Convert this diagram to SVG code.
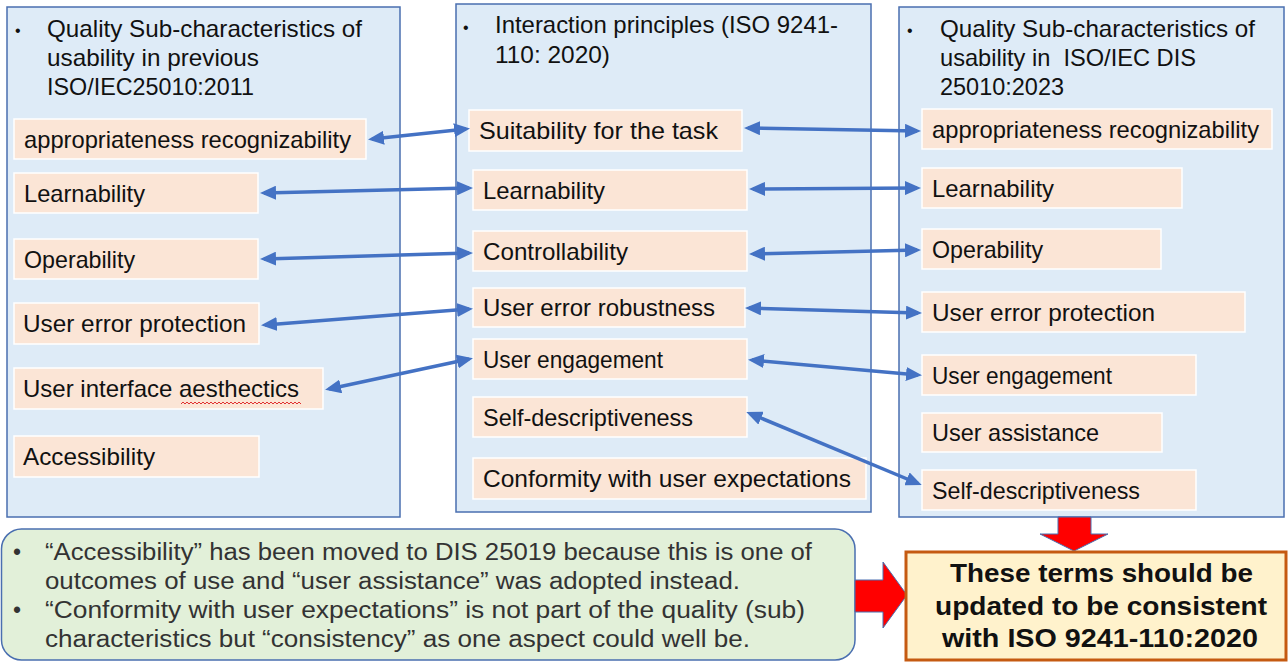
<svg xmlns="http://www.w3.org/2000/svg" width="1288" height="662" viewBox="0 0 1288 662">
<style>
.panel{fill:#DEEBF7;stroke:#4A6FB0;stroke-width:1.5}
.item{fill:#FBE5D6;stroke:#FFFFFF;stroke-width:1.5}
.t{font-family:"Liberation Sans",Arial,sans-serif;font-size:24px;fill:#111}
.h{font-family:"Liberation Sans",Arial,sans-serif;font-size:24px;fill:#111}
.b{font-family:"Liberation Sans",Arial,sans-serif;font-size:16px;fill:#111}
.n{font-family:"Liberation Sans",Arial,sans-serif;font-size:23px;fill:#333}
.y{font-family:"Liberation Sans",Arial,sans-serif;font-size:26px;font-weight:bold;fill:#111}
.c{fill:none;stroke:#4472C4;stroke-width:3.5;marker-start:url(#ah);marker-end:url(#ah)}
.red{fill:#FF0000;stroke:#4A6FB0;stroke-width:1}
</style>
<defs>
<marker id="ah" viewBox="0 0 16 14" refX="12" refY="7" markerWidth="16" markerHeight="14" markerUnits="userSpaceOnUse" orient="auto-start-reverse">
<path d="M0,0 L16,7 L0,14 z" fill="#4472C4"/>
</marker>
</defs>
<rect width="1288" height="662" fill="#FFFFFF"/>

<g id="panel-left">
<rect class="panel" x="7" y="7" width="393" height="510"/>
<text class="b" x="15" y="36">•</text>
<text class="h" x="47" y="37" textLength="315" lengthAdjust="spacingAndGlyphs">Quality Sub-characteristics of</text>
<text class="h" x="47" y="66" textLength="212" lengthAdjust="spacingAndGlyphs">usability in previous</text>
<text class="h" x="47" y="95" textLength="207" lengthAdjust="spacingAndGlyphs">ISO/IEC25010:2011</text>
</g>
<g id="panel-middle">
<rect class="panel" x="456" y="4" width="415" height="508"/>
<text class="b" x="463" y="33">•</text>
<text class="h" x="495" y="33" textLength="343" lengthAdjust="spacingAndGlyphs">Interaction principles (ISO 9241-</text>
<text class="h" x="495" y="63" textLength="115" lengthAdjust="spacingAndGlyphs">110: 2020)</text>
</g>
<g id="panel-right">
<rect class="panel" x="899" y="7" width="385" height="510"/>
<text class="b" x="907" y="36">•</text>
<text class="h" x="940" y="37" textLength="315" lengthAdjust="spacingAndGlyphs">Quality Sub-characteristics of</text>
<text class="h" x="940" y="66" textLength="256" lengthAdjust="spacingAndGlyphs" xml:space="preserve">usability in  ISO/IEC DIS</text>
<text class="h" x="940" y="95" textLength="124" lengthAdjust="spacingAndGlyphs">25010:2023</text>
</g>

<g id="left-appropriateness"><rect class="item" x="14" y="119" width="352" height="40"/><text class="t" x="24" y="148" textLength="327" lengthAdjust="spacingAndGlyphs">appropriateness recognizability</text></g>
<g id="left-learnability"><rect class="item" x="14" y="173" width="244" height="40"/><text class="t" x="24" y="202" textLength="121" lengthAdjust="spacingAndGlyphs">Learnability</text></g>
<g id="left-operability"><rect class="item" x="14" y="239" width="244" height="40"/><text class="t" x="24" y="268" textLength="111" lengthAdjust="spacingAndGlyphs">Operability</text></g>
<g id="left-user-error-protection"><rect class="item" x="14" y="303" width="245" height="41"/><text class="t" x="23" y="332" textLength="223" lengthAdjust="spacingAndGlyphs">User error protection</text></g>
<g id="left-ui-aesthetics"><rect class="item" x="14" y="368" width="309" height="41"/><text class="t" x="23" y="397" textLength="276" lengthAdjust="spacingAndGlyphs">User interface aesthectics</text><path d="M181,404 l2,-2 l2,2 l2,-2 l2,2 l2,-2 l2,2 l2,-2 l2,2 l2,-2 l2,2 l2,-2 l2,2 l2,-2 l2,2 l2,-2 l2,2 l2,-2 l2,2 l2,-2 l2,2 l2,-2 l2,2 l2,-2 l2,2 l2,-2 l2,2 l2,-2 l2,2 l2,-2 l2,2 l2,-2 l2,2 l2,-2 l2,2 l2,-2 l2,2 l2,-2 l2,2 l2,-2 l2,2 l2,-2 l2,2 l2,-2 l2,2 l2,-2 l2,2 l2,-2 l2,2 l2,-2 l2,2 l2,-2 l2,2 l2,-2 l2,2 l2,-2 l2,2 l2,-2 l2,2 l2,-2 l2,2" fill="none" stroke="#E03030" stroke-width="1"/></g>
<g id="left-accessibility"><rect class="item" x="14" y="436" width="245" height="41"/><text class="t" x="23" y="465" textLength="132" lengthAdjust="spacingAndGlyphs">Accessibility</text></g>

<g id="mid-suitability"><rect class="item" x="469" y="110" width="273" height="41"/><text class="t" x="479" y="139" textLength="239" lengthAdjust="spacingAndGlyphs">Suitability for the task</text></g>
<g id="mid-learnability"><rect class="item" x="473" y="170" width="274" height="40"/><text class="t" x="483" y="199" textLength="122" lengthAdjust="spacingAndGlyphs">Learnability</text></g>
<g id="mid-controllability"><rect class="item" x="473" y="231" width="274" height="40"/><text class="t" x="483" y="260" textLength="145" lengthAdjust="spacingAndGlyphs">Controllability</text></g>
<g id="mid-user-error-robustness"><rect class="item" x="473" y="288" width="272" height="39"/><text class="t" x="483" y="316" textLength="232" lengthAdjust="spacingAndGlyphs">User error robustness</text></g>
<g id="mid-user-engagement"><rect class="item" x="473" y="339" width="274" height="40"/><text class="t" x="483" y="368" textLength="180" lengthAdjust="spacingAndGlyphs">User engagement</text></g>
<g id="mid-self-descriptiveness"><rect class="item" x="473" y="397" width="274" height="40"/><text class="t" x="483" y="426" textLength="210" lengthAdjust="spacingAndGlyphs">Self-descriptiveness</text></g>
<g id="mid-conformity"><rect class="item" x="473" y="458" width="393" height="41"/><text class="t" x="483" y="487" textLength="368" lengthAdjust="spacingAndGlyphs">Conformity with user expectations</text></g>

<g id="right-appropriateness"><rect class="item" x="922" y="109" width="350" height="40"/><text class="t" x="932" y="138" textLength="327" lengthAdjust="spacingAndGlyphs">appropriateness recognizability</text></g>
<g id="right-learnability"><rect class="item" x="922" y="168" width="260" height="40"/><text class="t" x="932" y="197" textLength="122" lengthAdjust="spacingAndGlyphs">Learnability</text></g>
<g id="right-operability"><rect class="item" x="922" y="229" width="239" height="40"/><text class="t" x="932" y="258" textLength="111" lengthAdjust="spacingAndGlyphs">Operability</text></g>
<g id="right-user-error-protection"><rect class="item" x="922" y="292" width="323" height="40"/><text class="t" x="932" y="321" textLength="223" lengthAdjust="spacingAndGlyphs">User error protection</text></g>
<g id="right-user-engagement"><rect class="item" x="922" y="355" width="274" height="40"/><text class="t" x="932" y="384" textLength="180" lengthAdjust="spacingAndGlyphs">User engagement</text></g>
<g id="right-user-assistance"><rect class="item" x="922" y="413" width="240" height="39"/><text class="t" x="932" y="441" textLength="167" lengthAdjust="spacingAndGlyphs">User assistance</text></g>
<g id="right-self-descriptiveness"><rect class="item" x="922" y="470" width="274" height="40"/><text class="t" x="932" y="499" textLength="208" lengthAdjust="spacingAndGlyphs">Self-descriptiveness</text></g>

<g id="connectors">
<line class="c" x1="372" y1="139" x2="466" y2="129"/>
<line class="c" x1="748" y1="128" x2="917" y2="131"/>
<line class="c" x1="264" y1="193" x2="469" y2="188"/>
<line class="c" x1="753" y1="189" x2="917" y2="188"/>
<line class="c" x1="264" y1="259" x2="469" y2="253"/>
<line class="c" x1="753" y1="254" x2="917" y2="250"/>
<line class="c" x1="265" y1="325" x2="469" y2="309"/>
<line class="c" x1="749" y1="308" x2="918" y2="313"/>
<line class="c" x1="329" y1="389" x2="469" y2="359"/>
<line class="c" x1="752" y1="360" x2="918" y2="375"/>
<line class="c" x1="750" y1="413.5" x2="918" y2="483.5"/>
</g>

<g id="note">
<rect x="1.5" y="529" width="853.5" height="131" rx="20" ry="20" fill="#E2F0D9" stroke="#4A6FB0" stroke-width="1.5"/>
<text class="n" x="13" y="560">•</text>
<text class="n" x="45" y="560" textLength="767" lengthAdjust="spacingAndGlyphs">“Accessibility” has been moved to DIS 25019 because this is one of</text>
<text class="n" x="45" y="589" textLength="695" lengthAdjust="spacingAndGlyphs">outcomes of use and “user assistance” was adopted instead.</text>
<text class="n" x="13" y="618">•</text>
<text class="n" x="45" y="618" textLength="760" lengthAdjust="spacingAndGlyphs">“Conformity with user expectations” is not part of the quality (sub)</text>
<text class="n" x="45" y="647" textLength="705" lengthAdjust="spacingAndGlyphs">characteristics but “consistency” as one aspect could well be.</text>
</g>

<g id="arrow-right-red">
<polygon class="red" points="855,580 883,580 883,562 907,595 883,628 883,612 855,612"/>
</g>
<g id="arrow-down-red">
<polygon class="red" points="1058,517 1091,517 1091,534 1108,534 1074,551 1040,534 1058,534"/>
</g>

<g id="conclusion">
<rect x="906" y="552" width="380" height="108" fill="#FFF2CC" stroke="#C55A11" stroke-width="3"/>
<text class="y" x="950" y="582" textLength="303" lengthAdjust="spacingAndGlyphs">These terms should be</text>
<text class="y" x="935" y="615" textLength="332" lengthAdjust="spacingAndGlyphs">updated to be consistent</text>
<text class="y" x="942" y="647" textLength="316" lengthAdjust="spacingAndGlyphs">with ISO 9241-110:2020</text>
</g>
</svg>
